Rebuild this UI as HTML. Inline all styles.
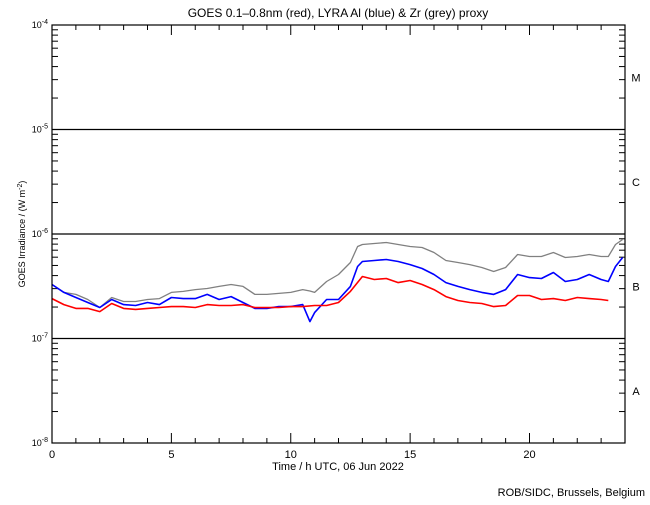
<!DOCTYPE html>
<html><head><meta charset="utf-8"><style>
body{margin:0;background:#fff;width:650px;height:500px;overflow:hidden;font-family:"Liberation Sans",sans-serif}
svg text{font-family:"Liberation Sans",sans-serif;fill:#000}
</style></head><body>
<svg id="chart" width="650" height="500" viewBox="0 0 650 500">
<text x="338" y="17" font-size="12" text-anchor="middle">GOES 0.1–0.8nm (red), LYRA Al (blue) &amp; Zr (grey) proxy</text>
<text x="338" y="470" font-size="11" text-anchor="middle">Time / h UTC, 06 Jun 2022</text>
<text x="645" y="496" font-size="11" text-anchor="end">ROB/SIDC, Brussels, Belgium</text>
<text transform="translate(25,234) rotate(-90)" font-size="9" text-anchor="middle">GOES Irradiance / (W m<tspan baseline-shift="super" font-size="7">-2</tspan>)</text>
<g id="axes"></g>
<g id="series"></g>
<rect x="52" y="25" width="573" height="418" fill="none" stroke="#000" stroke-width="1.2"/>
</svg>
<script>
const xTicks=[0,5,10,15,20];
const decades=[-4,-5,-6,-7,-8];
const classLabels=["M","C","B","A"];
const redTimes=[0,0.5,1,1.5,2,2.5,3,3.5,4,4.5,5,5.5,6,6.5,7,7.5,8,8.5,9,9.5,10,10.5,11,11.5,12,12.5,13,13.5,14,14.5,15,15.5,16,16.5,17,17.5,18,18.5,19,19.5,20,20.5,21,21.5,22,22.5,23,23.3];
const redValues=[2.41e-7,2.11e-7,1.94e-7,1.94e-7,1.81e-7,2.16e-7,1.94e-7,1.90e-7,1.94e-7,1.98e-7,2.02e-7,2.02e-7,1.98e-7,2.11e-7,2.07e-7,2.07e-7,2.11e-7,1.98e-7,1.98e-7,1.98e-7,2.02e-7,2.02e-7,2.07e-7,2.07e-7,2.21e-7,2.82e-7,3.92e-7,3.67e-7,3.75e-7,3.43e-7,3.59e-7,3.29e-7,2.94e-7,2.52e-7,2.31e-7,2.21e-7,2.16e-7,2.02e-7,2.07e-7,2.58e-7,2.58e-7,2.36e-7,2.41e-7,2.31e-7,2.47e-7,2.41e-7,2.36e-7,2.31e-7];
const lyraTimes=[0,0.5,1,1.5,2,2.5,3,3.5,4,4.5,5,5.5,6,6.5,7,7.5,8,8.5,9,9.5,10,10.5,10.8,11,11.5,12,12.5,12.8,13,13.5,14,14.5,15,15.5,16,16.5,17,17.5,18,18.5,19,19.5,20,20.5,21,21.5,22,22.5,23,23.3,23.6,23.9];
const blueValues=[3.29e-7,2.76e-7,2.47e-7,2.21e-7,1.98e-7,2.36e-7,2.11e-7,2.07e-7,2.21e-7,2.11e-7,2.47e-7,2.41e-7,2.41e-7,2.64e-7,2.36e-7,2.52e-7,2.21e-7,1.94e-7,1.94e-7,2.02e-7,2.02e-7,2.11e-7,1.45e-7,1.77e-7,2.36e-7,2.36e-7,3.15e-7,4.89e-7,5.46e-7,5.58e-7,5.70e-7,5.46e-7,5.10e-7,4.68e-7,4.10e-7,3.43e-7,3.15e-7,2.94e-7,2.76e-7,2.64e-7,2.94e-7,4.10e-7,3.83e-7,3.75e-7,4.28e-7,3.51e-7,3.67e-7,4.10e-7,3.67e-7,3.51e-7,4.89e-7,5.96e-7];
const greyValues=[3.29e-7,2.76e-7,2.64e-7,2.36e-7,1.98e-7,2.47e-7,2.26e-7,2.26e-7,2.36e-7,2.41e-7,2.76e-7,2.82e-7,2.94e-7,3.01e-7,3.15e-7,3.29e-7,3.15e-7,2.64e-7,2.64e-7,2.70e-7,2.76e-7,2.94e-7,2.85e-7,2.76e-7,3.51e-7,4.10e-7,5.34e-7,7.59e-7,7.94e-7,8.11e-7,8.29e-7,7.94e-7,7.59e-7,7.43e-7,6.65e-7,5.58e-7,5.34e-7,5.10e-7,4.78e-7,4.38e-7,4.78e-7,6.37e-7,6.09e-7,6.09e-7,6.65e-7,5.96e-7,6.09e-7,6.37e-7,6.09e-7,6.09e-7,7.94e-7,8.86e-7];
const X0=52,X1=625,Y0=25,Y1=443;
const xs=t=>X0+t*(X1-X0)/24;
const ys=v=>Y0+(-4-Math.log10(v))*(Y1-Y0)/4;
const NS="http://www.w3.org/2000/svg";
const ax=document.getElementById('axes');
function mk(tag,attrs,parent){const e=document.createElementNS(NS,tag);for(const k in attrs)e.setAttribute(k,attrs[k]);parent.appendChild(e);return e;}
// decade lines and labels
decades.forEach((d,i)=>{
  const y=ys(Math.pow(10,d));
  if(i>0&&i<decades.length-1){const l=mk('line',{x1:X0,x2:X1,y1:y,y2:y,stroke:'#000','stroke-width':1.2},ax);
  
  }
  const t=mk('text',{x:48,y:y+3,'font-size':9,'text-anchor':'end'},ax);
  
  
  t.innerHTML='10<tspan dy="-4" font-size="7">'+d+'</tspan>';
  if(i<decades.length-1){for(let m=2;m<=9;m++){const yy=ys(Math.pow(10,d-1)*m);
    const a=mk('line',{x1:X0,x2:X0+6,y1:yy,y2:yy,stroke:'#000'},ax);
    
    
    const b=mk('line',{x1:X1-6,x2:X1,y1:yy,y2:yy,stroke:'#000'},ax);
    
    }}
});
classLabels.forEach((c,i)=>{
  const y=(ys(Math.pow(10,decades[i]))+ys(Math.pow(10,decades[i+1])))/2;
  const t=mk('text',{x:636,y:y+4,'font-size':11,'text-anchor':'middle'},ax);
  
  
  t.textContent=c;
});
for(let h=0;h<=24;h++){const x=xs(h);const len=xTicks.includes(h)?10:5;
  const a=mk('line',{x1:x,x2:x,y1:Y1,y2:Y1-len,stroke:'#000'},ax);
  
  
  const b=mk('line',{x1:x,x2:x,y1:Y0,y2:Y0+len,stroke:'#000'},ax);
  
  }
xTicks.forEach(h=>{const t=mk('text',{x:xs(h),y:458,'font-size':11,'text-anchor':'middle'},ax);
  
  
  t.textContent=h;});
const sg=document.getElementById('series');
function line(times,vals,color,w,name){
  const p=mk('polyline',{points:times.map((t,i)=>xs(t).toFixed(1)+','+ys(vals[i]).toFixed(1)).join(' '),fill:'none',stroke:color,'stroke-width':w,'stroke-linejoin':'round'},sg);
  
  
}
line(lyraTimes,greyValues,'#808080',1.3,'zr-proxy-series');
line(lyraTimes,blueValues,'#0000ff',1.6,'al-proxy-series');
line(redTimes,redValues,'#ff0000',1.6,'goes-xray-series');
</script>
</body></html>
